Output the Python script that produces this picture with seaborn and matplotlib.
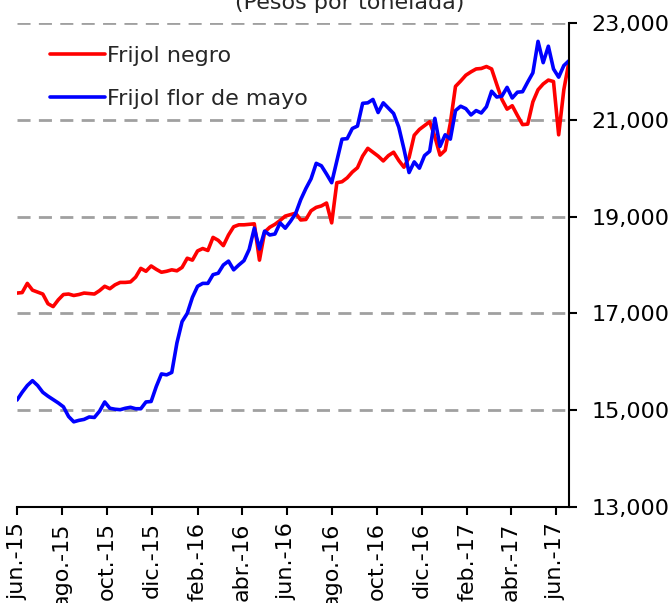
import numpy as np
import pandas as pd
import matplotlib
matplotlib.use("Agg")
import matplotlib.pyplot as plt
import seaborn as sns

sns.set_style("white")
plt.rcParams['font.family'] = ['DejaVu Sans']

# Datos semanales (pesos por tonelada)
fechas = pd.date_range('2015-06-01', periods=108, freq='7D')

frijol_negro = [17420, 17430, 17620, 17480, 17440, 17400, 17200, 17140, 17280, 17390,
                17400, 17370, 17390, 17420, 17410, 17400, 17470, 17560, 17510, 17590,
                17640, 17640, 17650, 17750, 17930, 17870, 17980, 17910, 17850, 17870,
                17900, 17880, 17950, 18140, 18100, 18290, 18340, 18300, 18570, 18510,
                18400, 18620, 18790, 18830, 18830, 18840, 18850, 18100, 18680, 18780,
                18840, 18920, 19010, 19040, 19070, 18930, 18940, 19120, 19190, 19220,
                19280, 18870, 19700, 19720, 19800, 19920, 20010, 20250, 20410, 20330,
                20250, 20150, 20260, 20330, 20160, 20020, 20220, 20680, 20800, 20880,
                20960, 20650, 20270, 20370, 20930, 21690, 21800, 21920, 21990, 22050,
                22060, 22100, 22050, 21730, 21420, 21220, 21290, 21090, 20900, 20910,
                21370, 21620, 21740, 21820, 21790, 20690, 21620, 22200]

frijol_flor_mayo = [15210, 15370, 15510, 15610, 15510, 15370, 15290, 15220, 15150, 15070,
                    14870, 14760, 14790, 14810, 14860, 14850, 14980, 15170, 15040, 15020,
                    15010, 15040, 15060, 15030, 15030, 15170, 15180, 15490, 15750, 15730,
                    15780, 16390, 16830, 17000, 17330, 17560, 17620, 17620, 17800, 17830,
                    18000, 18080, 17900, 18000, 18090, 18320, 18760, 18330, 18700, 18620,
                    18640, 18870, 18760, 18900, 19060, 19350, 19580, 19780, 20100, 20050,
                    19880, 19700, 20150, 20600, 20610, 20820, 20870, 21340, 21350, 21420,
                    21150, 21350, 21240, 21130, 20850, 20400, 19910, 20130, 20000, 20260,
                    20350, 21030, 20450, 20690, 20600, 21190, 21280, 21230, 21100, 21190,
                    21140, 21270, 21590, 21470, 21490, 21670, 21450, 21570, 21580, 21780,
                    21970, 22620, 22180, 22520, 22050, 21880, 22120, 22220]

series = ['Frijol negro', 'Frijol flor de mayo']
colores = ['#ff0000', '#0000ff']

tick_fechas = pd.date_range('2015-06-01', '2017-06-01', freq='2MS')
tick_labels = ['jun.-15', 'ago.-15', 'oct.-15', 'dic.-15', 'feb.-16', 'abr.-16',
               'jun.-16', 'ago.-16', 'oct.-16', 'dic.-16', 'feb.-17', 'abr.-17', 'jun.-17']
y_ticks = [13000, 15000, 17000, 19000, 21000, 23000]

df = pd.concat([
    pd.DataFrame({'fecha': fechas, 'precio': frijol_negro, 'serie': series[0]}),
    pd.DataFrame({'fecha': fechas, 'precio': frijol_flor_mayo, 'serie': series[1]}),
])

fig = plt.figure(figsize=(6.72, 6.03), dpi=100)
ax = fig.add_axes([0.0253, 0.1592, 0.8214, 0.8027])

sns.lineplot(data=df, x='fecha', y='precio', hue='serie', hue_order=series,
             palette=colores, linewidth=2.6, ax=ax)

ax.set_xlim(fechas[0], fechas[-1])
ax.set_ylim(13000, 23000)
ax.set_xlabel('')
ax.set_ylabel('')

# Eje Y a la derecha
ax.yaxis.tick_right()
ax.set_yticks(y_ticks)
ax.set_yticklabels([f'{v:,.0f}' for v in y_ticks])
ax.set_xticks(tick_fechas)
ax.set_xticklabels(tick_labels)

ax.tick_params(axis='y', left=False, right=True, direction='out', length=6,
               width=1.5, pad=10, labelsize=16, colors='black')
ax.tick_params(axis='x', bottom=True, direction='out', length=6, width=1.5,
               pad=5, labelsize=16, labelrotation=90, colors='black')

for s in ['left', 'top']:
    ax.spines[s].set_visible(False)
for s in ['right', 'bottom']:
    ax.spines[s].set_color('black')
    ax.spines[s].set_linewidth(1.5)

ax.set_axisbelow(True)
ax.yaxis.grid(True, color='#a0a0a0', linestyle=(0, (4.7, 3.0)), linewidth=2.0)
ax.xaxis.grid(False)

handles, labels = ax.get_legend_handles_labels()
ax.legend(handles, labels, loc='upper left', bbox_to_anchor=(0.06, 0.953),
          frameon=False, fontsize=16, handlelength=2.45, handletextpad=0.1,
          borderaxespad=0, borderpad=0, labelspacing=1.03)

fig.text(0.521, 0.978, '(Pesos por tonelada)', ha='center', va='bottom', fontsize=16)

fig.savefig('out.png', dpi=100)
